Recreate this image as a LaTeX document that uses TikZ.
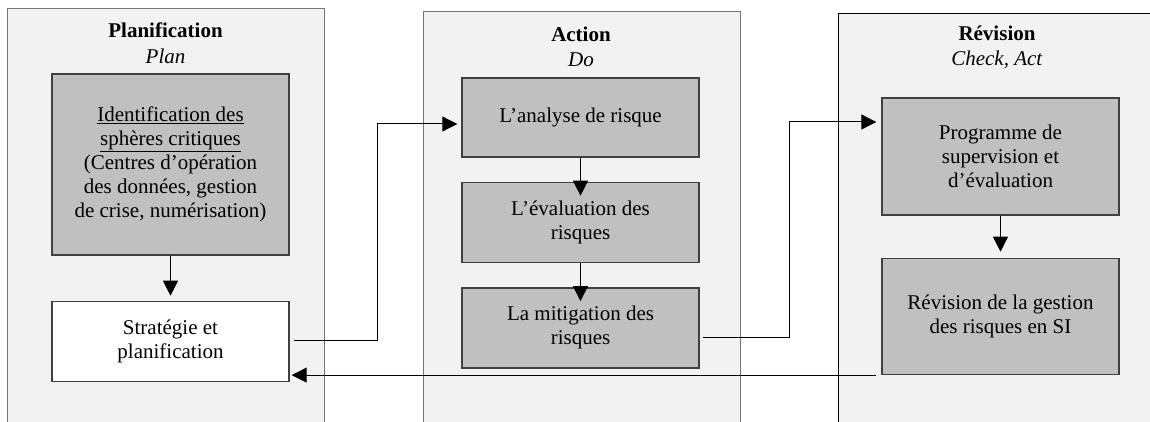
\documentclass[tikz,border=0pt]{standalone}
\usepackage{fontspec}
\setmainfont{Liberation Serif}
\usepackage{xcolor}
\definecolor{Panel Gray}{HTML}{F2F2F2}
\definecolor{Box Gray}{HTML}{C0C0C0}
\definecolor{Frame Gray}{HTML}{767676}
\definecolor{Dark Gray}{HTML}{404040}
\colorlet{cPanel}{Panel Gray}
\colorlet{cBox}{Box Gray}
\colorlet{cFrame}{Frame Gray}
\colorlet{cDark}{Dark Gray}
\usepackage{tikz}
\usetikzlibrary{positioning, arrows.meta}
\tikzset{
	line width = 1pt,
	>={Triangle[length=15pt, width=15pt]},
	font = \fontsize{21}{24}\selectfont,
	panel/.style={
		draw=cFrame,
		fill=cPanel,
		line width=1.4pt,
		minimum width=317pt,
		minimum height=430pt,
		anchor=north west,
		inner sep=0pt
	},
	heading/.style={
		align=center,
		font=\fontsize{21}{25.5}\selectfont,
		inner sep=0pt
	},
	stage box/.style={
		draw=cDark,
		fill=cBox,
		line width=1.4pt,
		minimum width=237pt,
		align=center,
		inner sep=0pt
	},
	edge/.style={
		->,
		line width=1pt
	}
}

\begin{document}
\begin{tikzpicture}[x=1pt, y=-1pt]
% ---
% frame
% ---
\useasboundingbox (0,0) rectangle (1150,422);
\clip (0,0) rectangle (1150,422);

% ---
% panels
% ---
\node[panel] (p-plan) at (7,8) {};
\node[panel] (p-do) at (423,11) {};
\node[panel, draw=black] (p-check) at (838,13) {};

\node[heading] (h-plan) at (165.5,43) {\textbf{Planification}\\\textit{Plan}};
\node[heading] (h-do) at (581,47) {\textbf{Action}\\\textit{Do}};
\node[heading] (h-check) at (997,47.5) {\textbf{Révision}\\\textit{Check, Act}};

% ---
% plan
% ---
\node[stage box, minimum height=181pt] at (170.5,164.5) (n-ident)
	{\underline{Identification des}\\\underline{sphères critiques}\\(Centres d’opération\\des données, gestion\\de crise, numérisation)};
\node[stage box, fill=white, minimum height=80pt, below=45pt of n-ident] (n-strat)
	{Stratégie et\\planification};

% ---
% do
% ---
\node[stage box, minimum height=79pt] at (580.5,117.5) (n-analyse) {L’analyse de risque};
\node[stage box, minimum height=80pt, below=24pt of n-analyse] (n-eval) {L’évaluation des\\risques};
\node[stage box, minimum height=80pt, below=24pt of n-eval] (n-mitig) {La mitigation des\\risques};

% ---
% check, act
% ---
\node[stage box, minimum height=117pt] at (1000.5,156.5) (n-prog) {Programme de\\supervision et\\d’évaluation};
\node[stage box, minimum height=116pt, below=42pt of n-prog] (n-revis) {Révision de la gestion\\des risques en SI};

% ---
% connectors
% ---
\draw[edge, shorten >=5pt] (n-ident) -- (n-strat);
\draw[edge, shorten >=-14pt] (n-analyse) -- (n-eval);
\draw[edge, shorten >=-14pt] (n-eval) -- (n-mitig);
\draw[edge, shorten >=6pt] (n-prog) -- (n-revis);

\draw[edge] ([xshift=4pt, yshift=1pt]n-strat.east) -- ++(84,0) |- ([xshift=-4pt, yshift=-6.5pt]n-analyse.west);
\draw[edge] ([xshift=3pt, yshift=-10pt]n-mitig.east) -- ++(87,0) |- ([xshift=-5pt, yshift=34.5pt]n-prog.west);
\draw[edge] ([xshift=-5pt]n-revis.south west) -- ([xshift=2pt, yshift=7pt]n-strat.south east);
\end{tikzpicture}
\end{document}
